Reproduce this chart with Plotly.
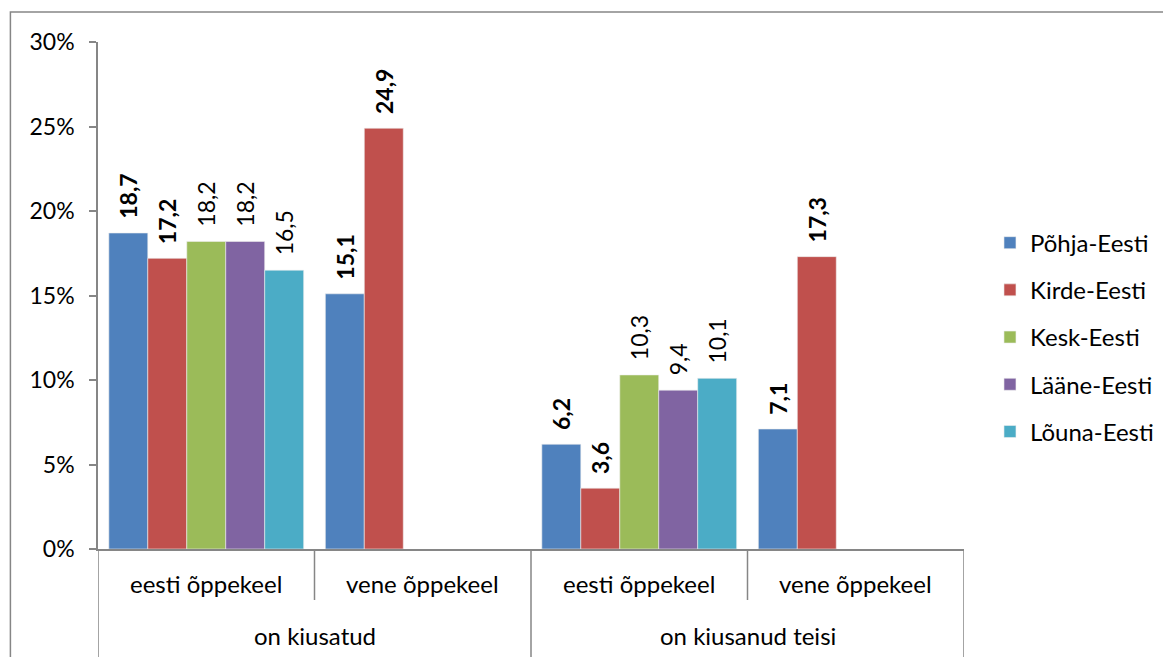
import plotly.graph_objects as go

outer = ["on kiusatud", "on kiusanud teisi"]
inner = ["eesti õppekeel", "vene õppekeel", "eesti õppekeel", "vene õppekeel"]
groups_per_outer = 2

regions = ["Põhja-Eesti", "Kirde-Eesti", "Kesk-Eesti", "Lääne-Eesti", "Lõuna-Eesti"]
values = [
    [18.7, 15.1, 6.2, 7.1],
    [17.2, 24.9, 3.6, 17.3],
    [18.2, None, 10.3, None],
    [18.2, None, 9.4, None],
    [16.5, None, 10.1, None],
]
colors = ["#4F81BD", "#C0504D", "#9BBB59", "#8064A2", "#4BACC6"]
bold = [True, True, False, False, False]

font = "Lato, 'Open Sans', sans-serif"
axis_col = "#868686"
pos = list(range(len(inner)))

fig = go.Figure()

for i, name in enumerate(regions):
    labels = []
    for v in values[i]:
        if v is None:
            labels.append("")
        else:
            s = f"{v:.1f}".replace(".", ",")
            s = "\u00a0\u00a0" + s
            labels.append(f"<b>{s}</b>" if bold[i] else s)
    fig.add_trace(
        go.Bar(
            x=pos,
            y=values[i],
            name=name,
            legendgroup=name,
            marker=dict(color=colors[i], line=dict(color="#EEEEEE", width=0.6)),
            text=labels,
            textposition="outside",
            textangle=-90,
            constraintext="none",
            cliponaxis=False,
            textfont=dict(family=font, size=23, color="#000000"),
            hoverinfo="skip",
        )
    )

fig.update_layout(
    width=1163,
    height=649,
    barmode="group",
    bargap=0.1,
    bargroupgap=0,
    paper_bgcolor="white",
    plot_bgcolor="white",
    margin=dict(l=90, r=203, t=34, b=108),
    font=dict(family=font, size=22, color="#000000"),
    legend=dict(
        x=1.03,
        xanchor="left",
        y=0.418,
        yanchor="middle",
        font=dict(family=font, size=24),
        tracegroupgap=13,
        traceorder="grouped",
    ),
)

fig.update_yaxes(
    range=[0, 30],
    tickvals=[0, 5, 10, 15, 20, 25, 30],
    ticktext=["0%", "5%", "10%", "15%", "20%", "25%", "30%"],
    showgrid=False,
    zeroline=False,
    showline=True,
    linecolor=axis_col,
    linewidth=1.5,
    ticks="outside",
    ticklen=7,
    tickcolor=axis_col,
    tickwidth=1.5,
    ticklabelstandoff=10,
    tickfont=dict(size=23),
)

fig.update_xaxes(
    range=[-0.5, len(inner) - 0.5],
    showgrid=False,
    zeroline=False,
    showline=True,
    linecolor=axis_col,
    linewidth=1.5,
    showticklabels=False,
    ticks="",
)

# category labels, first row
for i, lab in enumerate(inner):
    fig.add_annotation(
        x=i, xref="x", y=-34 / 507, yref="paper",
        text=lab, showarrow=False, yanchor="middle",
        font=dict(size=24),
    )

# category labels, second row
for j, lab in enumerate(outer):
    mid = j * groups_per_outer + (groups_per_outer - 1) / 2
    fig.add_annotation(
        x=mid, xref="x", y=-86 / 507, yref="paper",
        text=lab, showarrow=False, yanchor="middle",
        font=dict(size=24),
    )

# dividers
for k in range(len(inner) + 1):
    xb = k - 0.5
    if k % groups_per_outer == 0:
        y0 = -0.3
    else:
        y0 = -51 / 507
    fig.add_shape(
        type="line", xref="x", yref="paper",
        x0=xb, x1=xb, y0=0, y1=y0,
        line=dict(color=axis_col, width=1.5),
    )

# chart frame
fig.add_shape(
    type="rect",
    xref="paper",
    yref="paper",
    x0=-88 / 870,
    x1=1.4,
    y0=-0.5,
    y1=1 + 30 / 507,
    line=dict(color=axis_col, width=1.5),
    layer="below",
)

fig.write_html("out.html")
